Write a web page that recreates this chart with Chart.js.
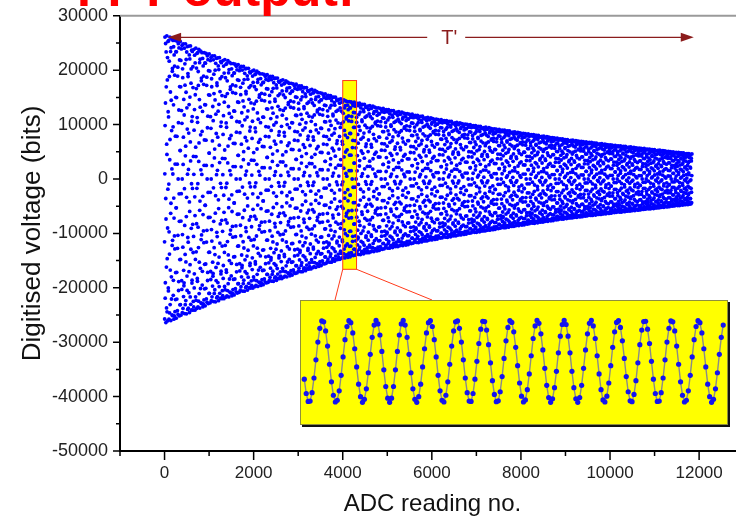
<!DOCTYPE html>
<html>
<head>
<meta charset="utf-8">
<script src="https://cdn.jsdelivr.net/npm/chart.js@4.4.0/dist/chart.umd.min.js"></script>
<style>
  html, body { margin: 0; padding: 0; background: #fff; overflow: hidden; }
  #wrap { position: relative; width: 736px; height: 519px; overflow: hidden; }
  #main { position: absolute; left: 0; top: 0; }
  #insetBox { position: absolute; box-sizing: border-box; background: #ffff00; border: 1px solid #8f8f3c; box-shadow: 2px 2px 0 #111; }
  #inset { position: absolute; }
</style>
</head>
<body>
<div id="wrap">
  <canvas id="main" width="760" height="519"></canvas>
  <div id="insetBox"></div>
  <canvas id="inset" width="428" height="125"></canvas>
</div>
<script>
// tick labels
const xTicks = [0, 2000, 4000, 6000, 8000, 10000, 12000];
const yTicks = [30000, 20000, 10000, 0, -10000, -20000, -30000, -40000, -50000];

// decay envelope of the signal (bits)
const envelopeReadings = [0, 1000, 2000, 3000, 4000, 5000, 6000, 7000, 8000, 9000, 10000, 11000, 11840];
const envelopeBits = [26500, 23000, 20000, 17300, 14600, 12800, 11200, 9800, 8500, 7300, 6300, 5400, 4600];

// samples shown in the magnified inset (bits), read row by row
const insetBits = [
  -6100, -11000, -13700, -13600, -10700, -5700, 500, 6600, 11300, 13800, 13500, 10400, 5200, -1000,
  -7000, -11600, -13900, -13300, -10100, -4800, 1500, 7400, 11900, 13900, 13200, 9700, 4300, -1900,
  -7800, -12100, -14000, -13000, -9400, -3900, 2400, 8200, 12400, 14000, 12800, 9000, 3400, -2900,
  -8600, -12600, -14000, -12600, -8600, -2900, 3400, 9000, 12800, 14000, 12400, 8200, 2400, -3900,
  -9400, -13000, -14000, -12100, -7800, -1900, 4300, 9700, 13200, 13900, 11900, 7400, 1500, -4800,
  -10100, -13300, -13900, -11600, -7000, -1000, 5200, 10400, 13500, 13800, 11300, 6600, 500, -5700,
  -10700, -13600, -13700, -11000, -6100, 0, 6100, 11000, 13700, 13600, 10700, 5700, -500, -6600,
  -11300, -13800, -13500, -10400, -5200, 1000, 7000, 11600, 13900, 13300, 10100, 4800, -1500, -7400,
  -11900, -13900, -13200, -9700, -4300, 1900, 7800, 12100, 14000, 13000, 9400, 3900, -2400, -8200,
  -12400, -14000, -12800, -9000, -3400, 2900, 8600, 12600, 14000, 12600, 8600, 2900, -3400, -9000,
  -12800, -14000, -12400, -8200, -2400, 3900, 9400, 13000, 14000, 12100, 7800, 1900, -4300, -9700,
  -13200, -13900, -11900, -7400, -1500, 4800, 10100, 13300, 13900, 11600, 7000, 1000, -5200, -10400,
  -13500, -13800, -11300, -6600, -500, 5700, 10700, 13600, 13700, 11000, 6100, 0, -6100, -11000,
  -13700, -13600, -10700, -5700, 500, 6600, 11300, 13800, 13500, 10400, 5200, -1000, -7000, -11600,
  -13900, -13300, -10100, -4800, 1500, 7400, 11900, 13900, 13200, 9700, 4300, -1900, -7800, -12100,
  -14000, -13000, -9400, -3900, 2400, 8200, 12400
];
const insetAmplitude = 14000;
const readingStep = 3;

// annotation placement (data units / page pixels)
const zoomWindow = { from: 4000, to: 4310, top: 18100, bottom: -16600 };
const periodArrow = { from: 80, to: 11880, y: 26050, labelAt: 6390 };
const insetFrame = { left: 300, top: 300, width: 428, height: 125 };

function envelopeAt(r) {
  for (let i = 1; i < envelopeReadings.length; i++) {
    if (r <= envelopeReadings[i]) {
      const r0 = envelopeReadings[i - 1], r1 = envelopeReadings[i];
      const t = (r - r0) / (r1 - r0);
      return envelopeBits[i - 1] + t * (envelopeBits[i] - envelopeBits[i - 1]);
    }
  }
  return envelopeBits[envelopeBits.length - 1];
}

// every plotted ADC reading: envelope scaled onto the inset sample pattern
const mainPoints = [];
const lastReading = envelopeReadings[envelopeReadings.length - 1];
for (let r = 0; r <= lastReading; r += readingStep) {
  mainPoints.push({ x: r, y: envelopeAt(r) * insetBits[r % insetBits.length] / insetAmplitude });
}

// place inset box
const box = document.getElementById('insetBox');
const insetCanvas = document.getElementById('inset');
[box, insetCanvas].forEach(el => {
  el.style.left = insetFrame.left + 'px';
  el.style.top = insetFrame.top + 'px';
});
box.style.width = insetFrame.width + 'px';
box.style.height = insetFrame.height + 'px';

const fontFamily = '"Liberation Sans", Arial, sans-serif';

const decorPlugin = {
  id: 'decor',
  beforeDatasetsDraw(chart) {
    const { ctx, scales: { x, y } } = chart;
    const bx0 = x.getPixelForValue(zoomWindow.from), bx1 = x.getPixelForValue(zoomWindow.to);
    const by0 = y.getPixelForValue(zoomWindow.top), by1 = y.getPixelForValue(zoomWindow.bottom);
    ctx.save();
    ctx.fillStyle = '#ffff00';
    ctx.fillRect(bx0, by0, bx1 - bx0, by1 - by0);
    ctx.restore();
  },
  afterDatasetsDraw(chart) {
    const { ctx, chartArea, scales: { x, y } } = chart;
    ctx.save();

    // zoom window outline + connectors to the inset
    const bx0 = x.getPixelForValue(zoomWindow.from), bx1 = x.getPixelForValue(zoomWindow.to);
    const by0 = y.getPixelForValue(zoomWindow.top), by1 = y.getPixelForValue(zoomWindow.bottom);
    ctx.strokeStyle = '#ff3a1a';
    ctx.lineWidth = 1;
    ctx.strokeRect(bx0, by0, bx1 - bx0, by1 - by0);
    ctx.beginPath();
    ctx.moveTo(bx0, by1);
    ctx.lineTo(insetFrame.left + 35, insetFrame.top);
    ctx.moveTo(bx1, by1);
    ctx.lineTo(insetFrame.left + 132, insetFrame.top);
    ctx.stroke();

    // T' period arrow
    const ax0 = x.getPixelForValue(periodArrow.from), ax1 = x.getPixelForValue(periodArrow.to);
    const ay = y.getPixelForValue(periodArrow.y);
    const lx = x.getPixelForValue(periodArrow.labelAt);
    ctx.strokeStyle = '#8b1c1c';
    ctx.fillStyle = '#8b1c1c';
    ctx.lineWidth = 1.3;
    ctx.beginPath();
    ctx.moveTo(ax0 + 8, ay);
    ctx.lineTo(lx - 22, ay);
    ctx.moveTo(lx + 16, ay);
    ctx.lineTo(ax1 - 8, ay);
    ctx.stroke();
    ctx.beginPath();
    ctx.moveTo(ax0, ay); ctx.lineTo(ax0 + 13, ay - 4.5); ctx.lineTo(ax0 + 13, ay + 4.5); ctx.closePath();
    ctx.moveTo(ax1, ay); ctx.lineTo(ax1 - 13, ay - 4.5); ctx.lineTo(ax1 - 13, ay + 4.5); ctx.closePath();
    ctx.fill();
    ctx.font = '20px ' + fontFamily;
    ctx.textAlign = 'center';
    ctx.textBaseline = 'middle';
    ctx.fillText("T'", lx, ay + 1);

    // top frame
    ctx.strokeStyle = '#9a9a9a';
    ctx.lineWidth = 2;
    ctx.beginPath();
    ctx.moveTo(chartArea.left, chartArea.top);
    ctx.lineTo(chartArea.right, chartArea.top);
    ctx.stroke();
    ctx.restore();
  },
  afterDraw(chart) {
    const { ctx, chartArea, scales: { x, y } } = chart;
    ctx.save();
    ctx.strokeStyle = '#000';
    ctx.lineWidth = 1.5;
    ctx.beginPath();
    // y ticks, major and half-way minor
    yTicks.forEach(v => {
      const py = y.getPixelForValue(v);
      ctx.moveTo(chartArea.left - 7, py); ctx.lineTo(chartArea.left, py);
    });
    yTicks.slice(0, -1).forEach(v => {
      const py = y.getPixelForValue(v - 5000);
      ctx.moveTo(chartArea.left - 4, py); ctx.lineTo(chartArea.left, py);
    });
    // x ticks
    xTicks.forEach(v => {
      const px = x.getPixelForValue(v);
      ctx.moveTo(px, chartArea.bottom); ctx.lineTo(px, chartArea.bottom + 9);
    });
    xTicks.map(v => v - 1000).concat([xTicks[xTicks.length - 1] + 1000]).forEach(v => {
      const px = x.getPixelForValue(v);
      ctx.moveTo(px, chartArea.bottom); ctx.lineTo(px, chartArea.bottom + 5);
    });
    ctx.stroke();

    // heading, mostly cut off above the picture
    ctx.fillStyle = '#ff0000';
    ctx.font = 'bold 50px ' + fontFamily;
    ctx.textAlign = 'left';
    ctx.textBaseline = 'alphabetic';
    ctx.fillText('FFT output:', 77, 6);
    ctx.restore();
  }
};

new Chart(document.getElementById('main'), {
  type: 'scatter',
  data: {
    datasets: [{
      data: mainPoints,
      pointRadius: 1.9,
      pointBackgroundColor: '#0000ff',
      pointBorderWidth: 0,
      borderWidth: 0,
      showLine: false
    }]
  },
  options: {
    responsive: false,
    animation: false,
    events: [],
    layout: { padding: { top: 15, right: 15, left: 0, bottom: 0 } },
    plugins: { legend: { display: false }, tooltip: { enabled: false } },
    scales: {
      x: {
        type: 'linear',
        min: -1000,
        max: 13030,
        grid: { display: false, drawTicks: true, tickLength: 9 },
        border: { color: '#000', width: 2 },
        afterBuildTicks: s => { s.ticks = xTicks.map(v => ({ value: v })); },
        afterFit: s => { s.height = 68; },
        ticks: { padding: 3, color: '#222', font: { family: fontFamily, size: 17 }, callback: v => String(v), maxRotation: 0, autoSkip: false },
        title: { display: true, text: 'ADC reading no.', color: '#111', font: { family: fontFamily, size: 24 }, padding: { top: 0, bottom: 0 } }
      },
      y: {
        type: 'linear',
        min: -50000,
        max: 30000,
        grid: { display: false, drawTicks: true, tickLength: 7 },
        border: { color: '#000', width: 2 },
        afterBuildTicks: s => { s.ticks = yTicks.map(v => ({ value: v })); },
        afterFit: s => { s.width = 120; },
        ticks: { padding: 5, color: '#222', font: { family: fontFamily, size: 18 }, callback: v => String(v), autoSkip: false },
        title: { display: true, text: 'Digitised voltage (bits)', color: '#111', font: { family: fontFamily, size: 26 }, padding: { top: 17, bottom: 0 } }
      }
    }
  },
  plugins: [decorPlugin]
});

// magnified stretch of samples
new Chart(insetCanvas, {
  type: 'line',
  data: {
    datasets: [{
      data: insetBits.map((v, i) => ({ x: i, y: v })),
      borderColor: '#8a8a8a',
      borderWidth: 1.4,
      pointRadius: 2.6,
      pointBackgroundColor: '#1414f0',
      pointBorderWidth: 0,
      tension: 0,
      clip: false
    }]
  },
  options: {
    responsive: false,
    animation: false,
    events: [],
    layout: { padding: 0 },
    plugins: { legend: { display: false }, tooltip: { enabled: false } },
    scales: {
      x: { type: 'linear', display: false, min: -0.15, max: 216.4 },
      y: { display: false, min: -20400, max: 19600 }
    }
  }
});
</script>
</body>
</html>
